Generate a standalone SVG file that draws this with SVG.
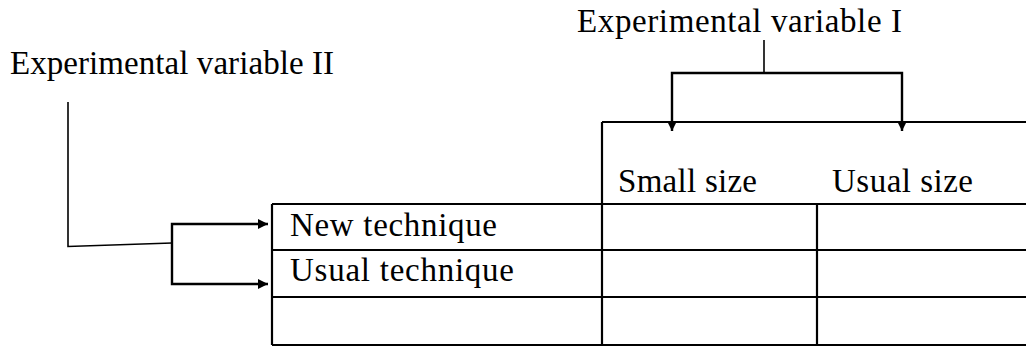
<svg xmlns="http://www.w3.org/2000/svg" width="1026" height="351" viewBox="0 0 1026 351">
  <style>
    .lbl { font-family: "Liberation Serif", "Times New Roman", serif; font-size: 33px; fill: #000; }
    .grid { stroke: #000; stroke-width: 2.2; fill: none; }
    .wire { stroke: #000; stroke-width: 2.4; fill: none; }
    .thin { stroke: #000; stroke-width: 1.6; fill: none; }
  </style>
  <defs>
    <marker id="arrow" viewBox="0 0 10 10" refX="10" refY="5" markerUnits="userSpaceOnUse" markerWidth="12" markerHeight="10" orient="auto-start-reverse">
      <path d="M0,0 L10,5 L0,10 z" fill="#000"/>
    </marker>
  </defs>
  <rect width="1026" height="351" fill="#fff"/>

  <!-- variable labels -->
  <g id="var1">
    <text class="lbl" x="577" y="32" textLength="325" lengthAdjust="spacing">Experimental variable I</text>
  </g>
  <g id="var2">
    <text class="lbl" x="10" y="74" textLength="324" lengthAdjust="spacing">Experimental variable II</text>
  </g>

  <!-- design table -->
  <g id="table">
    <path class="grid" d="M602,122 H1026 M272,204 H1026 M272,250 H1026 M272,297 H1026 M272,345 H1026"/>
    <path class="grid" d="M272,204 V345 M602,122 V345 M817,204 V345"/>
  </g>
  <g id="col-small">
    <text class="lbl" x="618" y="192" textLength="139" lengthAdjust="spacing">Small size</text>
  </g>
  <g id="col-usual">
    <text class="lbl" x="832" y="192" textLength="141" lengthAdjust="spacing">Usual size</text>
  </g>
  <g id="row-new">
    <text class="lbl" x="290" y="236" textLength="207" lengthAdjust="spacing">New technique</text>
  </g>
  <g id="row-usual">
    <text class="lbl" x="290" y="281" textLength="224" lengthAdjust="spacing">Usual technique</text>
  </g>

  <!-- connectors -->
  <g id="connectors">
    <path class="thin" d="M764,40 V72"/>
    <path class="wire" d="M672,131 V73 H902 V131" marker-start="url(#arrow)" marker-end="url(#arrow)"/>
    <path class="thin" d="M68,102 V246.5 L172,243"/>
    <path class="wire" d="M268,224 H172 V284 H268" marker-start="url(#arrow)" marker-end="url(#arrow)"/>
  </g>
</svg>
